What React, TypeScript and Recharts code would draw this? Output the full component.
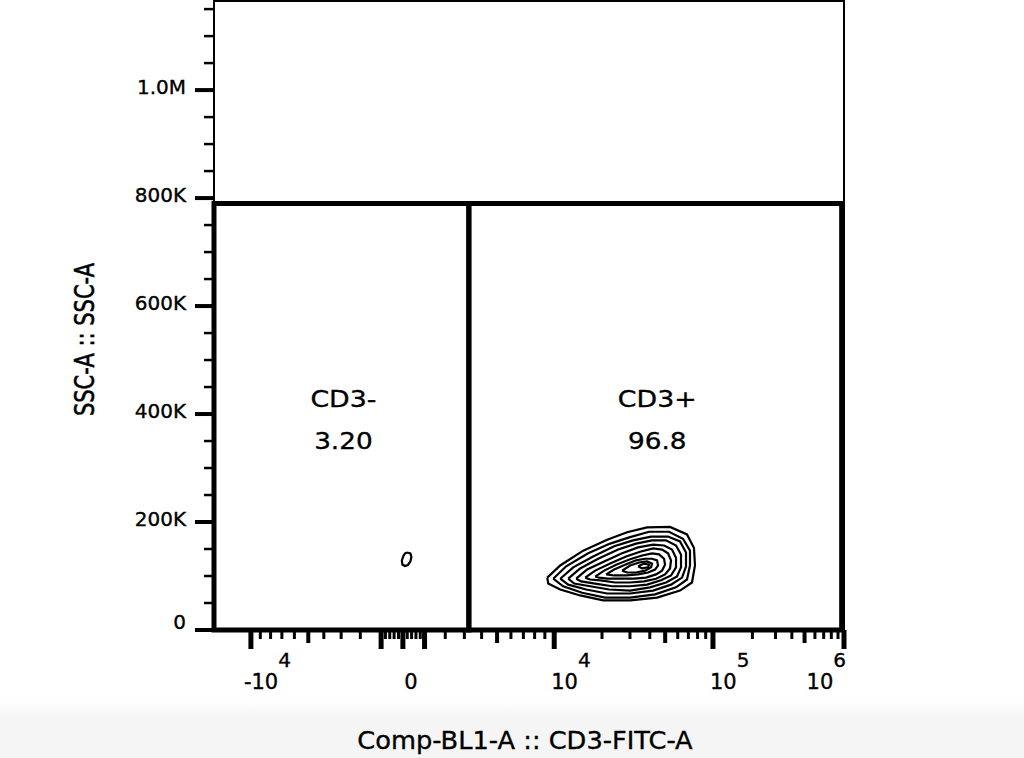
import React from 'react';
import { ScatterChart, Scatter, XAxis, YAxis, ReferenceArea } from 'recharts';

const FONT = '"DejaVu Sans", Verdana, sans-serif';
const INK = '#000';
const TEXT_WEIGHT = { stroke: '#000', strokeWidth: 0.35 };

// ---- axis definition (biexponential-like display scale) ----
const BIEX_WIDTH = 4500;
const AXIS_ANCHOR_VALUES = [-10000, 0, 10000, 100000, 1000000];
const AXIS_ANCHOR_CHANNELS = [60, 307, 553, 811, 1024];
const X_DOMAIN = [0, 1024];
const Y_DOMAIN = [0, 1165000];

// ---- tick labels ----
const X_LABEL_VALUES = [-10000, 0, 10000, 100000, 1000000];
const X_LABEL_BASES = ['-10', '0', '10', '10', '10'];
const X_LABEL_EXPS = ['4', '', '4', '5', '6'];
const X_LONG_TICKS = [-1000, 1000];
const X_MID_TICKS = [-5000, 5000, 50000, 500000];
const X_MINOR_TICKS = [
  -9000, -8000, -7000, -6000, -4000, -3000, -2000,
  -800, -600, -400, -200, 200, 400, 600, 800,
  2000, 3000, 4000, 6000, 7000, 8000, 9000,
  20000, 30000, 40000, 60000, 70000, 80000, 90000,
  200000, 300000, 400000, 600000, 700000, 800000, 900000,
];

const Y_MAJOR_TICKS = [0, 200000, 400000, 600000, 800000, 1000000];
const Y_MAJOR_LABELS = ['0', '200K', '400K', '600K', '800K', '1.0M'];
const Y_MINOR_TICKS = [
  50000, 100000, 150000, 250000, 300000, 350000, 450000, 500000, 550000,
  650000, 700000, 750000, 850000, 900000, 950000, 1050000, 1100000, 1150000,
];

// ---- gates ----
const GATE_NAMES = ['CD3-', 'CD3+'];
const GATE_PERCENTS = ['3.20', '96.8'];
const GATE_SPLIT_X = 3250;
const GATE_RIGHT_X = 960000;
const GATE_TOP_Y = 790000;

const X_TITLE = 'Comp-BL1-A :: CD3-FITC-A';
const Y_TITLE = 'SSC-A :: SSC-A';

// ---- contour lines (x: CD3-FITC-A, y: SSC-A) ----
const CONTOUR_1 = [[9250, 97000], [10910, 119500], [15220, 147000], [21550, 167000], [28780, 181000], [38450, 190000], [53650, 191000], [68620, 177000], [75940, 152000], [77050, 119500], [73780, 88000], [62010, 73000], [44440, 60000], [30060, 55000], [20330, 55000], [14570, 64000], [10910, 75000], [9350, 86000]];
const CONTOUR_2 = [[9890, 95000], [11900, 118000], [16360, 142000], [22500, 160000], [30060, 172000], [39580, 182000], [52870, 182000], [64760, 169000], [71670, 147000], [71670, 119500], [68620, 93500], [58520, 79000], [43170, 66000], [30060, 60000], [20930, 60000], [15000, 69000], [11390, 81000]];
const CONTOUR_3 = [[10910, 95000], [13170, 116000], [17590, 136000], [23850, 155000], [31390, 166000], [40740, 173000], [52110, 173000], [62010, 164000], [67640, 143500], [67640, 117600], [63830, 97000], [54430, 84000], [41940, 73000], [30060, 67600], [21550, 67600], [15900, 75000], [12250, 84000]];
const CONTOUR_4 = [[12250, 95000], [14570, 114000], [18910, 132000], [25270, 149000], [32780, 160000], [41330, 166000], [50630, 166000], [58520, 156500], [62910, 140000], [62910, 116000], [59370, 99000], [50630, 88000], [40150, 79000], [30060, 73000], [22180, 75000], [16840, 81000], [13360, 86000]];
const CONTOUR_5 = [[13750, 95000], [16130, 112000], [20630, 127000], [26770, 142000], [33750, 153000], [41940, 158000], [49180, 156500], [55220, 149000], [58520, 134000], [58520, 116000], [54430, 101000], [47090, 92000], [38450, 84000], [30060, 81000], [23170, 81000], [18110, 86000], [14790, 90000]];
const CONTOUR_6 = [[15670, 97000], [18110, 110000], [22500, 123000], [28370, 136000], [34740, 145000], [41940, 151000], [47780, 149000], [52110, 142000], [54430, 129000], [53650, 114000], [49900, 103000], [43800, 95000], [36810, 90000], [30060, 88000], [24190, 88000], [19470, 92000], [16840, 93500]];
const CONTOUR_7 = [[18110, 99000], [20630, 110000], [24550, 121000], [30060, 131000], [35760, 138000], [41330, 142000], [45750, 140000], [49180, 132000], [49900, 121000], [47780, 110000], [43800, 103000], [37890, 97000], [31850, 95000], [26010, 95000], [21550, 95000], [19190, 97000]];
const CONTOUR_8 = [[21240, 103000], [23850, 112000], [27960, 121000], [32780, 129000], [37350, 132000], [41330, 132000], [44440, 129000], [45090, 119500], [43170, 112000], [39010, 106500], [33750, 103000], [28370, 101000], [23850, 101000]];
const CONTOUR_9 = [[26770, 110000], [30060, 119500], [34240, 125000], [38450, 127000], [41330, 123000], [40740, 116000], [37350, 110000], [32780, 106500], [28780, 106500]];
const CONTOUR_10 = [[33750, 118000], [36810, 123000], [39580, 121000], [39010, 116000], [35760, 114000]];
const CONTOUR_NEG = [[184, 143500], [344, 141700], [390, 135200], [344, 126900], [230, 120400], [92, 118500], [-23, 121300], [-46, 128700], [23, 137000], [92, 141700]];

const CONTOURS = [CONTOUR_1, CONTOUR_2, CONTOUR_3, CONTOUR_4, CONTOUR_5, CONTOUR_6, CONTOUR_7, CONTOUR_8, CONTOUR_9, CONTOUR_10, CONTOUR_NEG];

// ---- scale transform ----
const gOf = (v: number) => Math.asinh(v / BIEX_WIDTH);
function toDisplay(v: number): number {
  const A = AXIS_ANCHOR_VALUES;
  const C = AXIS_ANCHOR_CHANNELS;
  let i = 0;
  while (i < A.length - 2 && v > A[i + 1]) i++;
  const useLog = A[i] > 0 && v > 0;
  const f = useLog
    ? (Math.log10(v) - Math.log10(A[i])) / (Math.log10(A[i + 1]) - Math.log10(A[i]))
    : (gOf(v) - gOf(A[i])) / (gOf(A[i + 1]) - gOf(A[i]));
  return C[i] + f * (C[i + 1] - C[i]);
}

type TickDef = { value: number; kind: string; pos: number; label: number };
const X_TICK_DEFS: TickDef[] = [
  ...X_LABEL_VALUES.map((v, i) => ({ value: v, kind: 'major', label: i })),
  ...X_LONG_TICKS.map((v) => ({ value: v, kind: 'major', label: -1 })),
  ...X_MID_TICKS.map((v) => ({ value: v, kind: 'mid', label: -1 })),
  ...X_MINOR_TICKS.map((v) => ({ value: v, kind: 'minor', label: -1 })),
]
  .map((d) => ({ ...d, pos: toDisplay(d.value) }))
  .sort((a, b) => a.value - b.value);
const X_TICKS = X_TICK_DEFS.map((d) => d.pos);
const Y_TICKS = [...Y_MAJOR_TICKS, ...Y_MINOR_TICKS].sort((a, b) => a - b);

const XTick = (props: any) => {
  const { x, y, payload } = props;
  const def = X_TICK_DEFS.find((d) => Math.abs(d.pos - payload.value) < 1e-6);
  if (!def) return null;
  const len = def.kind === 'major' ? 19 : def.kind === 'mid' ? 13 : 9;
  const w = def.kind === 'major' ? 5 : def.kind === 'mid' ? 4 : 3;
  let label = null;
  if (def.label >= 0) {
    const base = X_LABEL_BASES[def.label];
    const exp = X_LABEL_EXPS[def.label];
    const isLast = def.label === X_LABEL_VALUES.length - 1;
    let anchor: any = 'start';
    let lx = x - 3;
    if (!exp) { anchor = 'middle'; lx = x + 8; }
    else if (isLast) { anchor = 'end'; lx = x + 2; }
    else if (base.startsWith('-')) { lx = x - 7; }
    label = (
      <text x={lx} y={y + 59} textAnchor={anchor} fontFamily={FONT} fontSize={21} fill={INK} {...TEXT_WEIGHT}>
        {base}
        {exp ? <tspan dy={-22} fontSize={20}>{exp}</tspan> : null}
      </text>
    );
  }
  return (
    <g>
      <line x1={x} x2={x} y1={y} y2={y + len} stroke={INK} strokeWidth={w} />
      {label}
    </g>
  );
};

const YTick = (props: any) => {
  const { x, y, payload } = props;
  const idx = Y_MAJOR_TICKS.indexOf(payload.value);
  const major = idx >= 0;
  return (
    <g>
      <line x1={x} x2={x - (major ? 19 : 10)} y1={y} y2={y} stroke={INK} strokeWidth={major ? 4 : 2.5} />
      {major ? (
        <text x={x - 28} y={y - (payload.value === 0 ? 8 : 3)} textAnchor="end" dominantBaseline="central"
          fontFamily={FONT} fontSize={20} fill={INK} {...TEXT_WEIGHT}>
          {Y_MAJOR_LABELS[idx]}
        </text>
      ) : null}
    </g>
  );
};

const gateLabel = (gi: number) => (props: any) => {
  const vb = props.viewBox || {};
  const cx = vb.x + vb.width / 2 + 2;
  const cy = vb.y + vb.height / 2;
  return (
    <g>
      <text transform={`translate(${cx}, ${cy - 18}) scale(1.14, 1)`} textAnchor="middle" dominantBaseline="central"
        fontFamily={FONT} fontSize={23.5} fill={INK} {...TEXT_WEIGHT}>
        {GATE_NAMES[gi]}
      </text>
      <text transform={`translate(${cx}, ${cy + 24}) scale(1.12, 1)`} textAnchor="middle" dominantBaseline="central"
        fontFamily={FONT} fontSize={23.5} fill={INK} {...TEXT_WEIGHT}>
        {GATE_PERCENTS[gi]}
      </text>
    </g>
  );
};

const xTitle = (props: any) => {
  const vb = props.viewBox || {};
  return (
    <text transform={`translate(${vb.x + vb.width / 2 - 4}, ${vb.y + vb.height - 9}) scale(1.07, 1)`}
      textAnchor="middle" fontFamily={FONT} fontSize={24} fill={INK} {...TEXT_WEIGHT}>
      {X_TITLE}
    </text>
  );
};

const yTitle = (props: any) => {
  const vb = props.viewBox || {};
  const cx = vb.x + 84;
  const cy = vb.y + vb.height / 2 + 24;
  return (
    <text transform={`translate(${cx}, ${cy}) rotate(-90) scale(1, 1.3)`} x={0} y={0} textAnchor="middle"
      dominantBaseline="central" fontFamily={FONT} fontSize={21} fill={INK} stroke="#000" strokeWidth={0.45}>
      {Y_TITLE}
    </text>
  );
};

const NoShape = () => <g />;

export default function App() {
  const series = CONTOURS.map((c) => {
    const pts = c.map(([x, y]) => ({ x: toDisplay(x), y }));
    pts.push(pts[0]);
    return pts;
  });
  const split = toDisplay(GATE_SPLIT_X);
  const right = toDisplay(GATE_RIGHT_X);
  return (
    <div
      style={{
        position: 'absolute', left: 0, top: 0, width: 1024, height: 758,
        background: 'linear-gradient(to bottom, #ffffff 0px, #ffffff 700px, #f5f5f5 718px, #f5f5f5 758px)',
      }}
    >
      <ScatterChart width={1024} height={758} margin={{ top: 1, right: 180, bottom: 0, left: 0 }}>
        <XAxis
          type="number" dataKey="x" domain={X_DOMAIN} ticks={X_TICKS} interval={0}
          allowDataOverflow tickLine={false} tickSize={0} tickMargin={0} tick={XTick}
          axisLine={{ stroke: INK, strokeWidth: 2 }} height={128} label={{ content: xTitle }}
        />
        <YAxis
          type="number" dataKey="y" domain={Y_DOMAIN} ticks={Y_TICKS} interval={0}
          allowDataOverflow tickLine={false} tickSize={0} tickMargin={0} tick={YTick}
          axisLine={{ stroke: INK, strokeWidth: 2 }} width={214} label={{ content: yTitle }}
        />
        <ReferenceArea x1={X_DOMAIN[0]} x2={X_DOMAIN[1]} y1={Y_DOMAIN[0]} y2={Y_DOMAIN[1]}
          fill="none" fillOpacity={0} stroke={INK} strokeWidth={2} ifOverflow="visible" />
        <ReferenceArea x1={X_DOMAIN[0]} x2={split} y1={0} y2={GATE_TOP_Y}
          fill="none" fillOpacity={0} stroke={INK} strokeWidth={5} ifOverflow="visible" label={gateLabel(0)} />
        <ReferenceArea x1={split} x2={right} y1={0} y2={GATE_TOP_Y}
          fill="none" fillOpacity={0} stroke={INK} strokeWidth={5} ifOverflow="visible" label={gateLabel(1)} />
        {series.map((pts, i) => (
          <Scatter key={i} data={pts} line={{ stroke: '#000', strokeWidth: 2.2 }} lineJointType="linear"
            shape={NoShape} isAnimationActive={false} legendType="none" />
        ))}
      </ScatterChart>
    </div>
  );
}
